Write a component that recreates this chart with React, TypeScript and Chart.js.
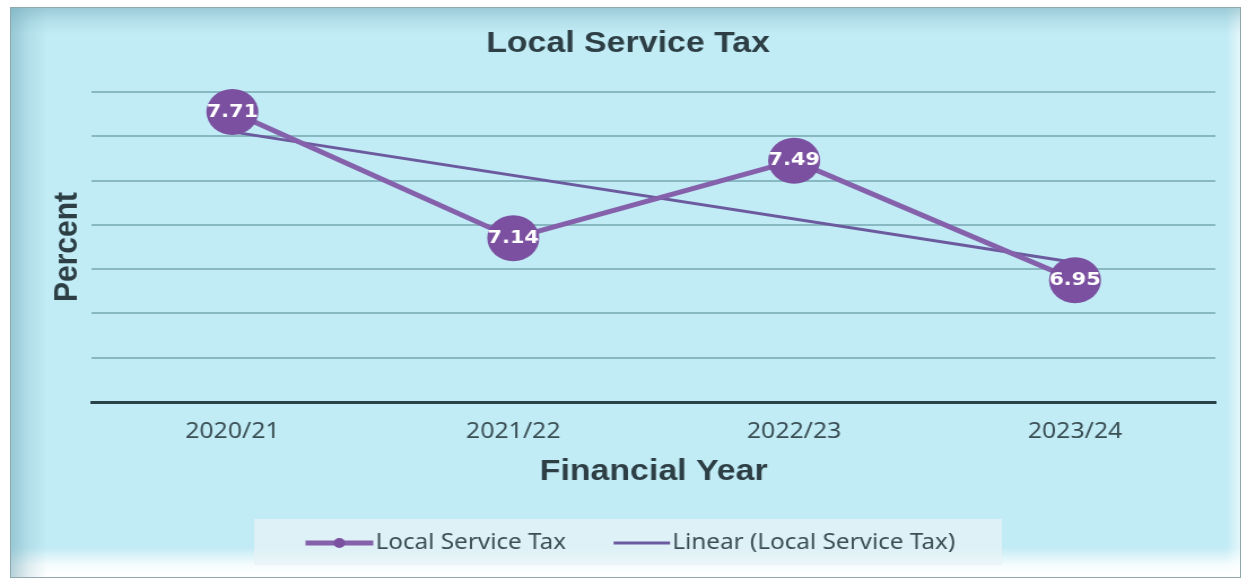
import React, { useEffect, useRef } from "react";
import { Chart, registerables } from "chart.js";

Chart.register(...registerables);

// ---- data ----
const categories = ["2020/21", "2021/22", "2022/23", "2023/24"];
const taxValues = [7.71, 7.14, 7.49, 6.95];
// linear trend line end points (first and last category)
const trendValues: (number | null)[] = [7.62, null, null, 7.03];
const yMin = 6.4;
const yMax = 7.8;
const yStep = 0.2;
const chartTitle = "Local Service Tax";
const xTitle = "Financial Year";
const yTitle = "Percent";
const seriesName = "Local Service Tax";
const trendName = "Linear (Local Service Tax)";

// ---- style ----
const STRETCH = 1.1295;
const INNER_W = 1104;
const INNER_H = 579;
const LINE_COLOR = "#8461aa";
const POINT_COLOR = "#7b50a0";
const TREND_COLOR = "#6c5a9e";
const TEXT_DARK = "#2d3f45";
const TICK_COLOR = "#3a4e54";

const dataLabelsPlugin = {
  id: "dataLabels",
  afterDatasetsDraw(chart: any) {
    const meta = chart.getDatasetMeta(0);
    const ctx = chart.ctx;
    ctx.save();
    ctx.font = 'bold 18.5px "DejaVu Sans"';
    ctx.fillStyle = "#ffffff";
    ctx.textAlign = "center";
    ctx.textBaseline = "middle";
    meta.data.forEach((pt: any, i: number) => {
      ctx.fillText(taxValues[i].toFixed(2), pt.x, pt.y);
    });
    ctx.restore();
  },
};

const legendPlugin = {
  id: "customLegend",
  afterDraw(chart: any) {
    const ctx = chart.ctx;
    const tb = chart.titleBlock;
    const cx = tb ? tb.left + tb.width / 2 : chart.width / 2;
    const boxW = 662;
    const boxH = 46;
    const boxTop = chart.height - 60;
    const midY = boxTop + boxH / 2 + 1;
    ctx.save();
    ctx.fillStyle = "rgba(232,243,246,0.72)";
    ctx.fillRect(cx - boxW / 2, boxTop, boxW, boxH);

    ctx.font = '21.5px "Noto Sans"';
    const key1W = 60;
    const key2W = 50;
    const keyGap = 2;
    const itemGap = 42;
    const w1 = ctx.measureText(seriesName).width;
    const w2 = ctx.measureText(trendName).width;
    const total = key1W + keyGap + w1 + itemGap + key2W + keyGap + w2;
    let x = cx - total / 2 + 2;

    // key 1: thick line with marker
    ctx.strokeStyle = LINE_COLOR;
    ctx.lineWidth = 5;
    ctx.beginPath();
    ctx.moveTo(x, midY);
    ctx.lineTo(x + key1W, midY);
    ctx.stroke();
    ctx.fillStyle = POINT_COLOR;
    ctx.beginPath();
    ctx.arc(x + key1W / 2, midY, 5, 0, Math.PI * 2);
    ctx.fill();
    x += key1W + keyGap;
    ctx.fillStyle = TICK_COLOR;
    ctx.textAlign = "left";
    ctx.textBaseline = "middle";
    ctx.fillText(seriesName, x, midY);
    x += w1 + itemGap;

    // key 2: thin trend line
    ctx.strokeStyle = TREND_COLOR;
    ctx.lineWidth = 3;
    ctx.beginPath();
    ctx.moveTo(x, midY);
    ctx.lineTo(x + key2W, midY);
    ctx.stroke();
    x += key2W + keyGap;
    ctx.fillStyle = TICK_COLOR;
    ctx.fillText(trendName, x, midY);
    ctx.restore();
  },
};

export default function App() {
  const canvasRef = useRef<HTMLCanvasElement | null>(null);

  useEffect(() => {
    if (!canvasRef.current) return;
    const chart = new Chart(canvasRef.current, {
      type: "line",
      data: {
        labels: categories,
        datasets: [
          {
            label: seriesName,
            data: taxValues,
            borderColor: LINE_COLOR,
            borderWidth: 5,
            pointRadius: 23,
            pointHoverRadius: 23,
            pointBackgroundColor: POINT_COLOR,
            pointBorderColor: POINT_COLOR,
            pointBorderWidth: 0,
            tension: 0,
            clip: false as any,
          },
          {
            label: trendName,
            data: trendValues,
            borderColor: TREND_COLOR,
            borderWidth: 3,
            pointRadius: 0,
            pointHoverRadius: 0,
            spanGaps: true,
            tension: 0,
          },
        ],
      },
      options: {
        responsive: true,
        maintainAspectRatio: false,
        animation: false,
        events: [],
        layout: {
          padding: { left: 36, right: 27.9, top: 10, bottom: 89 },
        },
        plugins: {
          legend: { display: false },
          tooltip: { enabled: false },
          title: {
            display: true,
            text: chartTitle,
            color: TEXT_DARK,
            font: { family: '"Liberation Sans", Arial, sans-serif', size: 30, weight: "bold" },
            padding: { top: 16, bottom: 30 },
          },
        },
        scales: {
          x: {
            offset: true,
            grid: { display: false, drawTicks: false },
            border: { display: true, color: "#2a4247", width: 3 },
            ticks: {
              color: TICK_COLOR,
              font: { family: '"Noto Sans", sans-serif', size: 22 },
              padding: 17,
            },
            title: {
              display: true,
              text: xTitle,
              color: TEXT_DARK,
              font: { family: '"Liberation Sans", Arial, sans-serif', size: 30, weight: "bold" },
              padding: { top: -8.4, bottom: 0 },
            },
          },
          y: {
            min: yMin,
            max: yMax,
            ticks: { display: false, stepSize: yStep },
            grid: { color: "#88b9c2", lineWidth: 2, drawTicks: false },
            border: { display: false },
            title: {
              display: true,
              text: yTitle,
              color: TEXT_DARK,
              font: { family: '"Liberation Sans", Arial, sans-serif', size: 30, weight: "bold" },
              padding: { top: 5.3, bottom: 4.1 },
            },
          },
        },
      },
      plugins: [dataLabelsPlugin, legendPlugin],
    });
    return () => chart.destroy();
  }, []);

  return (
    <div
      style={{
        position: "fixed",
        left: 0,
        top: 0,
        width: 1247,
        height: 579,
        overflow: "hidden",
        background: "#ffffff",
      }}
    >
      <div
        style={{
          position: "absolute",
          left: 10,
          top: 7,
          width: 1231,
          height: 571,
          boxSizing: "border-box",
          border: "1px solid #8ea8ad",
          backgroundColor: "#c1ebf5",
          backgroundImage: [
            "linear-gradient(to bottom, rgba(110,165,180,0.45) 0px, rgba(110,165,180,0.15) 14px, rgba(110,165,180,0) 26px)",
            "linear-gradient(to right, rgba(110,165,180,0.5) 0px, rgba(110,165,180,0.18) 18px, rgba(110,165,180,0) 36px)",
            "linear-gradient(to top, rgba(255,255,255,1) 0px, rgba(255,255,255,0.85) 12px, rgba(255,255,255,0) 30px)",
            "linear-gradient(to left, rgba(255,255,255,0.55) 0px, rgba(255,255,255,0) 14px)",
          ].join(","),
        }}
      />
      <div
        style={{
          position: "absolute",
          left: 0,
          top: 0,
          width: INNER_W,
          height: INNER_H,
          transform: `scaleX(${STRETCH})`,
          transformOrigin: "0 0",
        }}
      >
        <canvas ref={canvasRef} />
      </div>
    </div>
  );
}
